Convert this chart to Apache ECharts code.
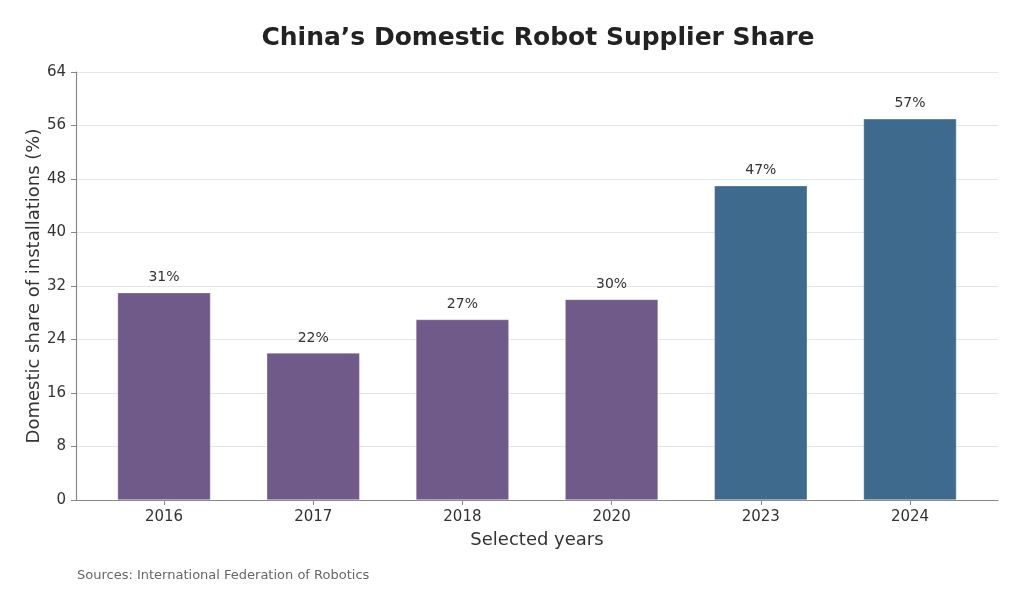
<!DOCTYPE html>
<html>
<head>
<meta charset="UTF-8">
<title>China's Domestic Robot Supplier Share</title>
<script src="https://cdn.jsdelivr.net/npm/echarts@6/dist/echarts.min.js"></script>
<style>
  html, body { margin: 0; padding: 0; background: #fff; }
  #main { width: 1024px; height: 608px; }
</style>
</head>
<body>
<div id="main"></div>
<script>
// data
var years = ['2016', '2017', '2018', '2020', '2023', '2024'];
var shares = [31, 22, 27, 30, 47, 57];
var groups = ['early', 'early', 'early', 'early', 'recent', 'recent'];
var yTicks = [0, 8, 16, 24, 32, 40, 48, 56, 64];

var groupColor = { early: '#6f5a8a', recent: '#3e6a8e' };
var font = 'DejaVu Sans';

var chart = echarts.init(document.getElementById('main'));

var positions = years.map(function (y, i) { return i; });

chart.setOption({
    animation: false,
    textStyle: { fontFamily: font },
    title: {
        text: 'China\u2019s Domestic Robot Supplier Share',
        left: 533,
        textAlign: 'center',
        top: 21,
        textStyle: { fontFamily: font, fontSize: 25, fontWeight: 'bold', color: '#222' }
    },
    grid: { left: 76, right: 26, top: 72, bottom: 108, containLabel: false },
    xAxis: {
        type: 'value',
        min: -0.59,
        max: 5.59,
        name: 'Selected years',
        nameLocation: 'middle',
        nameGap: 31,
        nameMoveOverlap: false,
        nameTextStyle: { fontFamily: font, fontSize: 18, color: '#333' },
        splitLine: { show: false },
        axisLine: { show: true, onZero: false, lineStyle: { color: '#888', width: 1.2 } },
        axisTick: { show: true, customValues: positions, length: 5, lineStyle: { color: '#888' } },
        axisLabel: {
            customValues: positions,
            formatter: function (v) { return years[Math.round(v)]; },
            fontFamily: font, fontSize: 15, color: '#333', margin: 10
        }
    },
    yAxis: {
        type: 'value',
        min: 0,
        max: 64,
        interval: 8,
        name: 'Domestic share of installations (%)',
        nameLocation: 'middle',
        nameGap: 33,
        nameMoveOverlap: false,
        nameTextStyle: { fontFamily: font, fontSize: 18, color: '#333' },
        axisLine: { show: true, onZero: false, lineStyle: { color: '#888', width: 1.2 } },
        axisTick: { show: true, inside: false, length: 5, lineStyle: { color: '#888', width: 1 } },
        axisLabel: {
            customValues: yTicks,
            fontFamily: font, fontSize: 15, color: '#333', margin: 10
        },
        splitLine: { show: true, lineStyle: { color: '#e3e5ea', width: 1 } }
    },
    series: [{
        type: 'bar',
        barWidth: 93,
        data: shares.map(function (v, i) {
            return {
                value: [i, v],
                itemStyle: { color: groupColor[groups[i]], borderColor: 'rgba(255,255,255,0.5)', borderWidth: 0.6 }
            };
        }),
        label: {
            show: true,
            position: 'top',
            distance: 8,
            formatter: function (p) { return p.value[1] + '%'; },
            fontFamily: font, fontSize: 14, color: '#333'
        }
    }],
    graphic: [{
        type: 'text',
        left: 77,
        top: 569,
        style: {
            text: 'Sources: International Federation of Robotics',
            font: '13px "DejaVu Sans"',
            fill: '#666'
        }
    }]
});
</script>
</body>
</html>
